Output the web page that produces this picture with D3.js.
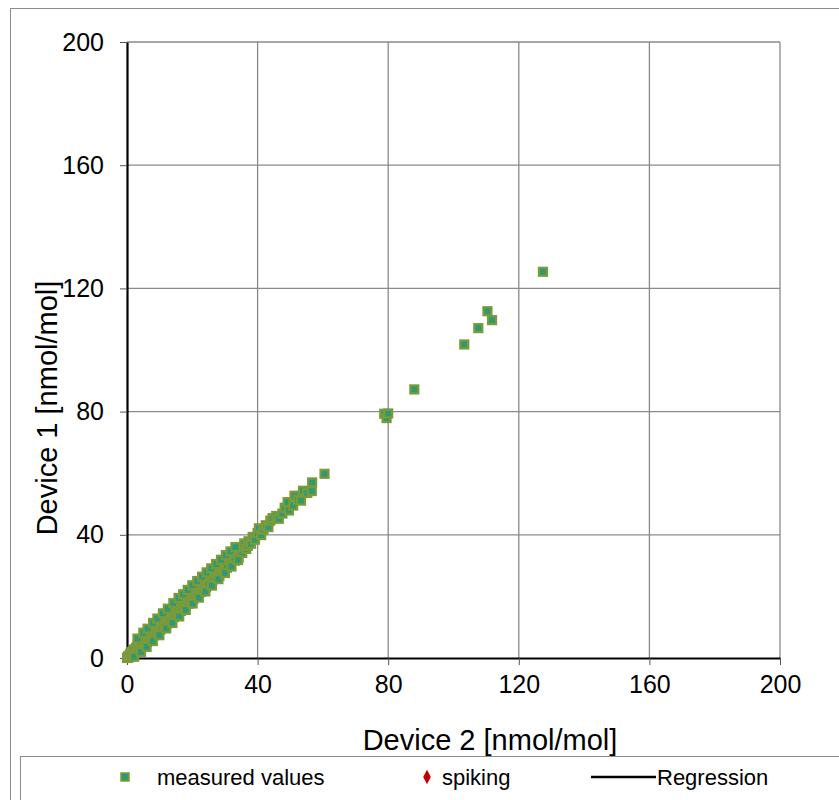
<!DOCTYPE html>
<html>
<head>
<meta charset="utf-8">
<script src="https://cdn.jsdelivr.net/npm/d3@7"></script>
<style>
  body { margin: 0; background: #fff; }
  text { font-family: "Liberation Sans", Arial, sans-serif; fill: #000; }
</style>
</head>
<body>
<svg id="chart"></svg>
<script>
// Device 2 (x) vs Device 1 (y), nmol/mol
const measuredX = [0, 0.2, 0.3, 0.6, 0.8, 1, 1.2, 1.4, 1.5, 1.8, 2.1, 2.4, 2.5, 2.8, 3, 3.3, 3.5, 3.6, 4, 4.2,
  4.5, 4.6, 4.9, 5.2, 5.5, 5.7, 5.9, 6.1, 6.4, 6.6, 6.8, 7.1, 7.4, 7.6, 7.8, 8.1, 8.4, 8.6, 8.8, 9.1,
  9.5, 9.7, 9.8, 10.2, 10.5, 10.8, 10.9, 11.2, 11.6, 11.8, 11.9, 12.3, 12.6, 12.9, 13, 13.3, 13.7, 14, 14, 14.4,
  14.7, 15.1, 15.2, 15.5, 15.8, 16.2, 16.4, 16.5, 16.9, 17.3, 17.5, 17.6, 18, 18.4, 18.7, 18.8, 19.1, 19.5, 19.8, 19.9,
  20.3, 20.6, 21, 21, 21.4, 21.8, 22.2, 22.3, 22.6, 23, 23.4, 23.5, 23.8, 24.2, 24.6, 24.8, 25, 25.6, 26.1, 26.3,
  26.7, 27.2, 27.6, 27.8, 28.3, 28.9, 29, 29.5, 30.1, 30.6, 31.2, 31.8, 32, 32.4, 33, 33.6, 34.2, 34.5, 34.8, 35.3,
  35.9, 36.5, 37, 37.2, 38, 38.5, 39.2, 40, 40.4, 41.1, 41.8, 42.5, 43.3, 43.9, 44.6, 45.7, 46.5, 47.6, 48.3, 49.2,
  49.6, 50.9, 51.3, 52.4, 53.3, 53.9, 55.2, 56.6, 56.7, 60.5,
  3.2, 5, 6.3, 8, 9.3, 11, 12.5, 14.2, 15.8, 17.2, 18.6, 20, 21.5, 23, 24.4, 25.8, 27.3, 28.8, 30.3, 31.7, 33.2,
  2.2, 4.3, 6, 7.9, 9.9, 12, 13.9, 16, 18, 20.1, 22, 24, 26, 28, 30, 32, 34,
  78.8, 79.5, 80, 88, 103.3, 107.6, 110.4, 111.8, 127.4]
const measuredY = [0, 0.1, 0.5, 0.2, 0.9, 1.4, 0.6, 1.5, 2, 1.1, 2.8, 1.7, 2.4, 3.3, 2.2, 3.9, 3.6, 2.8, 4.6, 3.2,
  5.3, 4.4, 3.9, 6, 4.6, 5.8, 6.8, 5.2, 7.5, 6.7, 5.9, 8.3, 6.5, 7.5, 9.1, 7.3, 9.6, 8.8, 7.8, 10.4,
  8.6, 9.6, 11, 9.2, 11.8, 10.9, 9.8, 12.5, 10.5, 11.7, 13.1, 11.2, 13.8, 13.1, 12, 14.6, 12.5, 15.2, 14.2, 13.3,
  16, 14, 15.3, 16.7, 14.6, 17.5, 16.6, 15.3, 18.1, 16.1, 17.4, 18.9, 16.8, 19.5, 18.9, 17.6, 20.3, 18.4, 19.7, 21,
  19.1, 21.6, 19.9, 21.2, 22.5, 20.7, 23.3, 22.1, 21.4, 24, 22.2, 23.6, 24.8, 23, 25.5, 24.9, 23.8, 26.4, 24.9, 26.1,
  27.5, 25.8, 27.7, 28.4, 26.7, 29.5, 28.8, 27.9, 30.6, 29.3, 31.8, 30.5, 32.1, 33.2, 31.6, 34.1, 32.6, 34.6, 35.5, 34.1,
  37.2, 35.4, 36.4, 37.9, 37.1, 39.3, 38.4, 40.6, 42.1, 39.9, 41.7, 43.1, 42.5, 44.6, 45.4, 46.1, 45.2, 46.9, 48.8, 50.6,
  47.9, 49.5, 52.7, 51.4, 51.1, 54.3, 53.6, 54.2, 57, 59.8,
  6.3, 8.2, 9.5, 11.4, 12.8, 14.5, 16, 17.8, 19.5, 20.7, 22.1, 23.6, 25, 26.4, 27.8, 29.1, 30.5, 31.9, 33.4, 34.6, 36,
  0.4, 2, 3.6, 5.5, 7.4, 9.6, 11.4, 13.5, 15.6, 17.7, 19.6, 21.6, 23.5, 25.6, 27.6, 29.7, 31.8,
  79.3, 77.9, 79.4, 87.2, 101.8, 107.1, 112.6, 109.7, 125.4]
const spikingX = []
const spikingY = []
const ticks = [0, 40, 80, 120, 160, 200]
const legendItems = ["measured values", "spiking", "Regression"]

const width = 839
const height = 800

const svg = d3.select('#chart')
  .attr('width', width)
  .attr('height', height)

// outer chart frame
svg.append('rect')
  .attr('x', 10.5).attr('y', 8.5)
  .attr('width', 850).attr('height', 820)
  .attr('fill', 'none').attr('stroke', '#8c8c8c').attr('stroke-width', 1)

const x = d3.scaleLinear().domain([0, 200]).range([127, 780])
const y = d3.scaleLinear().domain([0, 200]).range([658, 42])

// gridlines
const grid = svg.append('g')
grid.selectAll('.vgrid')
  .data(ticks.slice(1))
  .enter().append('line')
    .attr('x1', d => x(d)).attr('x2', d => x(d))
    .attr('y1', y(0)).attr('y2', y(200))
    .attr('stroke', '#8a8a8a').attr('stroke-width', 1.3)
grid.selectAll('.hgrid')
  .data(ticks.slice(1))
  .enter().append('line')
    .attr('x1', x(0)).attr('x2', x(200))
    .attr('y1', d => y(d)).attr('y2', d => y(d))
    .attr('stroke', '#8a8a8a').attr('stroke-width', 1.3)

// axes
const xAxis = svg.append('g')
  .attr('transform', `translate(0,${y(0)})`)
  .call(d3.axisBottom(x).tickValues(ticks).tickSize(7).tickSizeOuter(0).tickPadding(10))
const yAxis = svg.append('g')
  .attr('transform', `translate(${x(0)},0)`)
  .call(d3.axisLeft(y).tickValues(ticks).tickSize(7).tickSizeOuter(0).tickPadding(16))

;[xAxis, yAxis].forEach(a => {
  a.select('.domain').attr('stroke', '#000').attr('stroke-width', 2.2)
  a.selectAll('.tick line').attr('stroke', '#555').attr('stroke-width', 1)
  a.selectAll('.tick text')
    .style('font-size', '25px')
    .style('font-family', '"Liberation Sans", Arial, sans-serif')
    .attr('fill', '#000')
})

// axis titles
svg.append('text')
  .attr('x', 490).attr('y', 750)
  .attr('text-anchor', 'middle')
  .style('font-size', '29px')
  .text('Device 2 [nmol/mol]')
svg.append('text')
  .attr('transform', `translate(57,408) rotate(-90)`)
  .attr('text-anchor', 'middle')
  .style('font-size', '29px')
  .text('Device 1 [nmol/mol]')

// points
const measured = measuredX.map((v, i) => ({ x: v, y: measuredY[i] }))
const spiking = spikingX.map((v, i) => ({ x: v, y: spikingY[i] }))
const msize = 8

svg.append('g')
  .selectAll('rect')
  .data(measured)
  .enter().append('rect')
    .attr('x', d => x(d.x) - msize / 2)
    .attr('y', d => y(d.y) - msize / 2)
    .attr('width', msize).attr('height', msize)
    .attr('fill', '#2f9a72')
    .attr('stroke', '#7b9b3a').attr('stroke-width', 2.2)

svg.append('g')
  .selectAll('path')
  .data(spiking)
  .enter().append('path')
    .attr('d', d3.symbol().type(d3.symbolDiamond).size(60))
    .attr('transform', d => `translate(${x(d.x)},${y(d.y)})`)
    .attr('fill', '#c00000')

// legend
const leg = svg.append('g')
leg.append('rect')
  .attr('x', 20.5).attr('y', 756.5)
  .attr('width', 840).attr('height', 60)
  .attr('fill', '#fff').attr('stroke', '#8c8c8c').attr('stroke-width', 1)

leg.append('rect')
  .attr('x', 121).attr('y', 773)
  .attr('width', 8).attr('height', 8)
  .attr('fill', '#2f9a72').attr('stroke', '#7b9b3a').attr('stroke-width', 1.5)
leg.append('path')
  .attr('d', d3.symbol().type(d3.symbolDiamond).size(50))
  .attr('transform', 'translate(427,777) scale(1,1.1)')
  .attr('fill', '#c00000')
leg.append('line')
  .attr('x1', 591).attr('x2', 656)
  .attr('y1', 777).attr('y2', 777)
  .attr('stroke', '#000').attr('stroke-width', 2.5)

leg.selectAll('.ltext')
  .data(legendItems)
  .enter().append('text')
    .attr('x', (d, i) => [157, 442, 657][i])
    .attr('y', 785)
    .style('font-size', '22px')
    .text(d => d)
</script>
</body>
</html>
